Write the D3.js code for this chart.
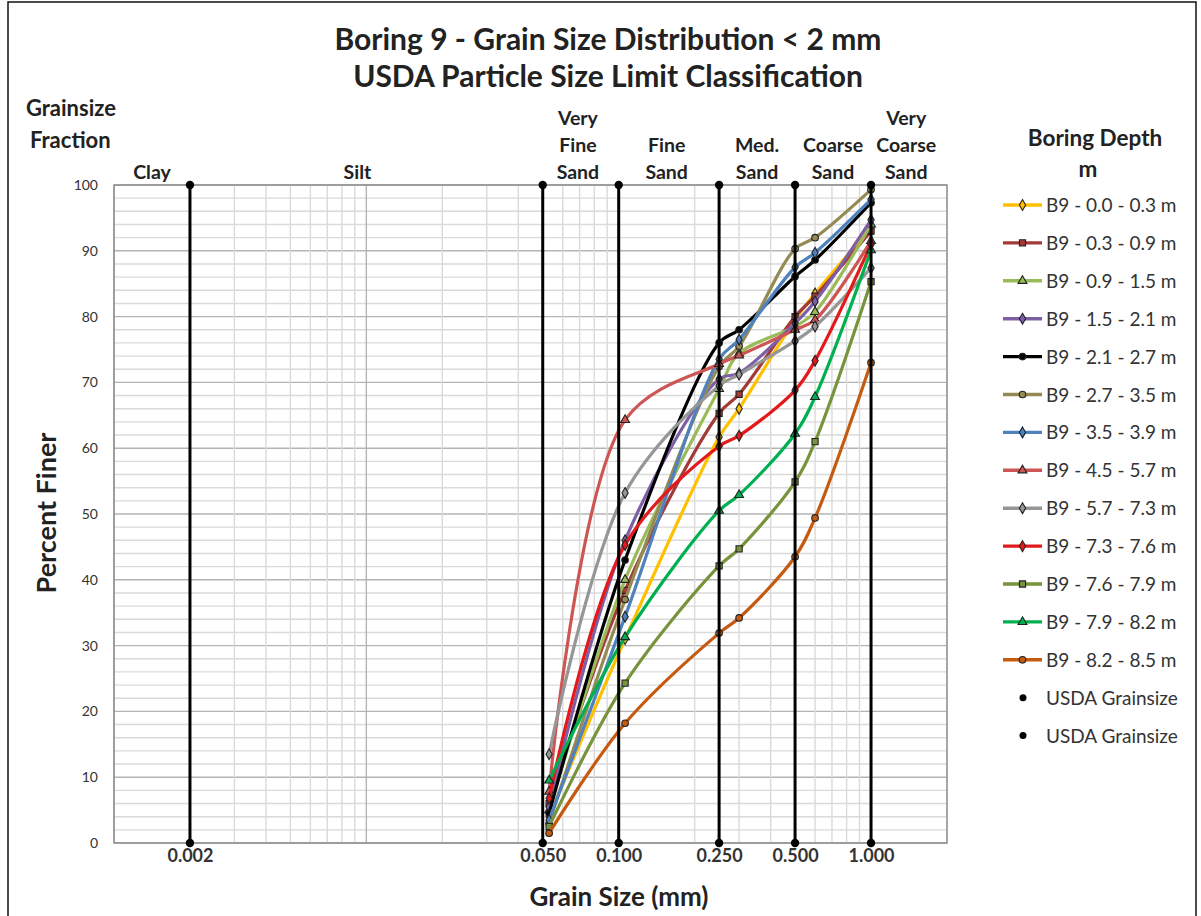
<!DOCTYPE html>
<html>
<head>
<meta charset="utf-8">
<script src="https://cdn.jsdelivr.net/npm/d3@7"></script>
<style>
	body { margin: 0; background: #fff; }
	svg { font-family: Lato, "Open Sans", sans-serif; }
</style>
</head>
<body>
<svg id="chart" width="1201" height="916"></svg>
<script>
'use strict';

// sieve sizes (mm) used by every boring sample
var grainSizes = [0.053, 0.106, 0.25, 0.3, 0.5, 0.6, 1.0];

var seriesNames = [
	"B9 - 0.0 - 0.3 m", "B9 - 0.3 - 0.9 m", "B9 - 0.9 - 1.5 m", "B9 - 1.5 - 2.1 m",
	"B9 - 2.1 - 2.7 m", "B9 - 2.7 - 3.5 m", "B9 - 3.5 - 3.9 m", "B9 - 4.5 - 5.7 m",
	"B9 - 5.7 - 7.3 m", "B9 - 7.3 - 7.6 m", "B9 - 7.6 - 7.9 m", "B9 - 7.9 - 8.2 m",
	"B9 - 8.2 - 8.5 m"
];

// percent finer, one row per sample, same order as grainSizes
var percentFiner = [
	[4.0, 31.0, 61.7, 66.0, 79.5, 83.5, 93.5],
	[6.0, 38.4, 65.3, 68.2, 80.0, 83.1, 93.0],
	[5.0, 40.0, 69.0, 74.4, 78.5, 80.7, 94.0],
	[5.5, 46.0, 70.5, 71.4, 79.0, 82.3, 94.7],
	[4.5, 43.0, 76.0, 78.0, 86.1, 88.6, 97.3],
	[3.0, 37.0, 72.4, 75.5, 90.3, 92.0, 99.3],
	[3.5, 34.4, 73.5, 76.5, 87.5, 89.7, 97.8],
	[7.8, 64.3, 72.8, 74.1, 78.0, 79.5, 91.5],
	[13.5, 53.2, 69.5, 71.2, 76.3, 78.5, 87.4],
	[6.8, 45.3, 60.3, 61.9, 68.8, 73.3, 91.0],
	[2.5, 24.3, 42.1, 44.7, 54.9, 61.0, 85.3],
	[9.5, 31.3, 50.5, 52.9, 62.2, 67.8, 90.1],
	[1.5, 18.2, 31.9, 34.2, 43.5, 49.4, 73.0]
];

var seriesColors = [
	"#FFC000", "#A23B38", "#9BBB59", "#7E5FA6", "#000000", "#948A54", "#4F81BD",
	"#CD5553", "#969696", "#E31A1C", "#77933C", "#00B050", "#C55A11"
];
var seriesMarkers = [
	"diamond", "square", "triangle", "diamond", "circle", "circle", "diamond",
	"triangle", "diamond", "diamond", "square", "triangle", "circle"
];

// USDA class limits (mm) and the class labels between them
var usdaLimits = [0.002, 0.05, 0.1, 0.25, 0.5, 1.0];
var classLabels = [
	{ lines: ["Clay"], from: 0.001, to: 0.002 },
	{ lines: ["Silt"], from: 0.0017, to: 0.05 },
	{ lines: ["Very", "Fine", "Sand"], from: 0.05, to: 0.095 },
	{ lines: ["Fine", "Sand"], from: 0.1, to: 0.24 },
	{ lines: ["Med.", "Sand"], from: 0.25, to: 0.5 },
	{ lines: ["Coarse", "Sand"], from: 0.5, to: 1.0 },
	{ lines: ["Very", "Coarse", "Sand"], from: 1.0, to: 1.9 }
];
var yTicks = [0, 10, 20, 30, 40, 50, 60, 70, 80, 90, 100];

var svg = d3.select("#chart");

var plot = { left: 114, right: 947, top: 185, bottom: 843 };

var x = d3.scaleLog().domain([0.001, 2]).range([plot.left, plot.right]);
var y = d3.scaleLinear().domain([0, 100]).range([plot.bottom, plot.top]);

// outer frame
svg.append("rect")
	.attr("x", 8).attr("y", 2)
	.attr("width", 1188).attr("height", 940)
	.attr("fill", "none")
	.attr("stroke", "#111")
	.attr("stroke-width", 1.5);

// titles
svg.append("text")
	.attr("x", 608).attr("y", 50)
	.attr("text-anchor", "middle")
	.attr("font-size", 30).attr("font-weight", "bold").attr("fill", "#222")
	.text("Boring 9 - Grain Size Distribution < 2 mm");
svg.append("text")
	.attr("x", 608).attr("y", 87)
	.attr("text-anchor", "middle")
	.attr("font-size", 30).attr("font-weight", "bold").attr("fill", "#222")
	.text("USDA Particle Size Limit Classification");

svg.append("text")
	.attr("x", 26).attr("y", 116)
	.attr("font-size", 22).attr("font-weight", "bold").attr("fill", "#222")
	.text("Grainsize");
svg.append("text")
	.attr("x", 30).attr("y", 148)
	.attr("font-size", 22).attr("font-weight", "bold").attr("fill", "#222")
	.text("Fraction");

// grid
var minorX = [];
for (var d = 0.001; d < 2; d *= 10) {
	for (var k = 1; k <= 9; k++) {
		if (d * k <= 2) minorX.push(d * k);
	}
}
var grid = svg.append("g");
grid.selectAll("line.hx")
	.data(d3.range(0, 101, 2))
	.enter().append("line")
	.attr("x1", plot.left).attr("x2", plot.right)
	.attr("y1", function(v) { return y(v); })
	.attr("y2", function(v) { return y(v); })
	.attr("stroke", function(v) { return v % 10 === 0 ? "#b4b4b4" : "#dadada"; })
	.attr("stroke-width", 1.4);
grid.selectAll("line.vx")
	.data(minorX)
	.enter().append("line")
	.attr("y1", plot.top).attr("y2", plot.bottom)
	.attr("x1", function(v) { return x(v); })
	.attr("x2", function(v) { return x(v); })
	.attr("stroke", function(v) {
		var l = Math.log10(v);
		return Math.abs(l - Math.round(l)) < 1e-6 ? "#b4b4b4" : "#dadada";
	})
	.attr("stroke-width", 1.4);
svg.append("rect")
	.attr("x", plot.left).attr("y", plot.top)
	.attr("width", plot.right - plot.left).attr("height", plot.bottom - plot.top)
	.attr("fill", "none").attr("stroke", "#8c8c8c").attr("stroke-width", 1.4);

// axes
var yAxis = svg.append("g")
	.attr("transform", "translate(" + (plot.left - 16) + ",0)")
	.call(d3.axisLeft(y).tickValues(yTicks).tickSize(0).tickPadding(0));
yAxis.select(".domain").remove();
yAxis.selectAll("text")
	.attr("font-size", 14).attr("font-family", "Lato, sans-serif").attr("fill", "#333");

var xAxis = svg.append("g")
	.attr("transform", "translate(0," + (plot.bottom + 2) + ")")
	.call(d3.axisBottom(x).tickValues(usdaLimits).tickFormat(d3.format(".3f")).tickSize(0).tickPadding(4));
xAxis.select(".domain").remove();
xAxis.selectAll("text")
	.attr("font-size", 18).attr("font-weight", "bold")
	.attr("font-family", "Lato, sans-serif").attr("fill", "#333");

svg.append("text")
	.attr("x", 619).attr("y", 906)
	.attr("text-anchor", "middle")
	.attr("font-size", 26).attr("font-weight", "bold").attr("fill", "#222")
	.text("Grain Size (mm)");
svg.append("text")
	.attr("transform", "translate(56," + 513 + ") rotate(-90)")
	.attr("text-anchor", "middle")
	.attr("font-size", 27).attr("font-weight", "bold").attr("fill", "#222")
	.text("Percent Finer");

// class labels above plot
classLabels.forEach(function(c) {
	var cx = x(Math.sqrt(c.from * c.to));
	var n = c.lines.length;
	c.lines.forEach(function(t, i) {
		svg.append("text")
			.attr("x", cx)
			.attr("y", 179 - (n - 1 - i) * 27)
			.attr("text-anchor", "middle")
			.attr("font-size", 19.5).attr("font-weight", "bold").attr("fill", "#222")
			.text(t);
	});
});

// sample curves
var symbolTypes = {
	diamond: d3.symbolDiamond,
	square: d3.symbolSquare,
	triangle: d3.symbolTriangle,
	circle: d3.symbolCircle
};
var line = d3.line()
	.x(function(p) { return x(p[0]); })
	.y(function(p) { return y(p[1]); })
	.curve(d3.curveCatmullRom.alpha(0.5));

var series = seriesNames.map(function(name, i) {
	return {
		name: name,
		color: seriesColors[i],
		marker: seriesMarkers[i],
		points: grainSizes.map(function(g, j) { return [g, percentFiner[i][j]]; })
	};
});

var curves = svg.append("g");
series.forEach(function(s) {
	var g = curves.append("g");
	g.append("path")
		.attr("d", line(s.points))
		.attr("fill", "none")
		.attr("stroke", s.color)
		.attr("stroke-width", 3.2);
	g.selectAll("path.m")
		.data(s.points)
		.enter().append("path")
		.attr("transform", function(p) { return "translate(" + x(p[0]) + "," + y(p[1]) + ")"; })
		.attr("d", d3.symbol().type(symbolTypes[s.marker]).size(s.marker === "square" ? 38 : 34))
		.attr("fill", s.color)
		.attr("stroke", "#222")
		.attr("stroke-width", 1.1);
});

// USDA limit lines with end dots
var usda = svg.append("g");
usda.selectAll("line")
	.data(usdaLimits)
	.enter().append("line")
	.attr("x1", function(v) { return x(v); })
	.attr("x2", function(v) { return x(v); })
	.attr("y1", y(0)).attr("y2", y(100))
	.attr("stroke", "#000").attr("stroke-width", 3);
usdaLimits.forEach(function(v) {
	[0, 100].forEach(function(p) {
		usda.append("circle")
			.attr("cx", x(v)).attr("cy", y(p)).attr("r", 4.2)
			.attr("fill", "#000");
	});
});

// legend
var legend = svg.append("g");
legend.append("text")
	.attr("x", 1095).attr("y", 146)
	.attr("text-anchor", "middle")
	.attr("font-size", 22.5).attr("font-weight", "bold").attr("fill", "#222")
	.text("Boring Depth");
legend.append("text")
	.attr("x", 1088).attr("y", 177)
	.attr("text-anchor", "middle")
	.attr("font-size", 22.5).attr("font-weight", "bold").attr("fill", "#222")
	.text("m");

var rowGap = 37.9;
series.forEach(function(s, i) {
	var ly = 205 + i * rowGap;
	legend.append("line")
		.attr("x1", 1003).attr("x2", 1042)
		.attr("y1", ly).attr("y2", ly)
		.attr("stroke", s.color).attr("stroke-width", 3.4);
	legend.append("path")
		.attr("transform", "translate(1022.5," + ly + ")")
		.attr("d", d3.symbol().type(symbolTypes[s.marker]).size(s.marker === "square" ? 38 : 34))
		.attr("fill", s.color).attr("stroke", "#222").attr("stroke-width", 1.1);
	legend.append("text")
		.attr("x", 1046).attr("y", ly + 7)
		.attr("font-size", 19).attr("fill", "#333")
		.text(s.name);
});
[0, 1].forEach(function(j) {
	var ly = 205 + (series.length + j) * rowGap;
	legend.append("circle")
		.attr("cx", 1023).attr("cy", ly).attr("r", 3.5).attr("fill", "#000");
	legend.append("text")
		.attr("x", 1046).attr("y", ly + 7)
		.attr("font-size", 19).attr("fill", "#333")
		.text("USDA Grainsize");
});
</script>
</body>
</html>
